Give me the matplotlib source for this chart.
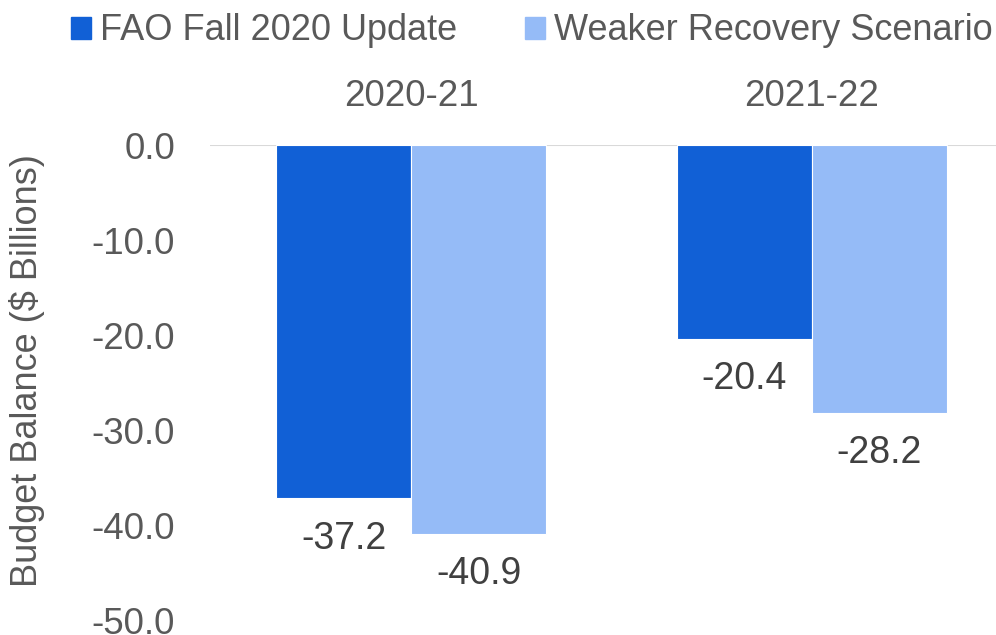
import matplotlib
matplotlib.use("Agg")
import matplotlib.pyplot as plt
import matplotlib.patches as mpatches
import numpy as np

plt.rcParams["font.family"] = ["Liberation Sans", "DejaVu Sans"]

# data
years = ["2020-21", "2021-22"]
series_names = ["FAO Fall 2020 Update", "Weaker Recovery Scenario"]
fao_update = [-37.2, -20.4]
weaker_recovery = [-40.9, -28.2]
y_ticks = [0, -10, -20, -30, -40, -50]

dark_blue = "#1160D6"
light_blue = "#95BBF7"
text_gray = "#595959"

fig = plt.figure(figsize=(9.96, 6.35), dpi=100)
ax = fig.add_axes((0.2108, 0.0236, 0.7892, 0.748))

x = np.arange(len(years))
w = 0.337
b1 = ax.bar(x - w / 2, fao_update, w, color=dark_blue, edgecolor="white", linewidth=0.8)
b2 = ax.bar(x + w / 2, weaker_recovery, w, color=light_blue, edgecolor="white", linewidth=0.8)

# value labels under bar ends
for bars, vals in ((b1, fao_update), (b2, weaker_recovery)):
    for rect, v in zip(bars, vals):
        ax.annotate(f"{v:.1f}", (rect.get_x() + rect.get_width() / 2, v),
                    xytext=(0, -29), textcoords="offset points",
                    ha="center", va="center", fontsize=27, color="#404040")

ax.axhline(0, color="#D9D9D9", linewidth=1.5, zorder=0)
ax.set_ylim(-50, 0)
ax.set_xlim(-0.502, 1.459)
ax.set_yticks(y_ticks)
ax.set_yticklabels([f"{t:.1f}" for t in y_ticks])
ax.set_xticks(x)
ax.set_xticklabels(years)
ax.xaxis.tick_top()
ax.tick_params(axis="x", length=0, pad=22, labelsize=26.5, labelcolor=text_gray)
ax.tick_params(axis="y", length=0, pad=25, labelsize=26.5, labelcolor=text_gray)
for s in ax.spines.values():
    s.set_visible(False)

ax.set_ylabel("Budget Balance ($ Billions)", fontsize=26, color=text_gray)
ax.yaxis.set_label_coords(-0.21, 0.526)

handles = [mpatches.Patch(color=dark_blue), mpatches.Patch(color=light_blue)]
fig.legend(handles, series_names, loc="upper center", bbox_to_anchor=(0.534, 1.03),
           ncol=2, frameon=False, fontsize=26, labelcolor=text_gray,
           handlelength=0.55, handleheight=0.55, handletextpad=0.25, columnspacing=1.9)

fig.savefig("out.png", dpi=100)
